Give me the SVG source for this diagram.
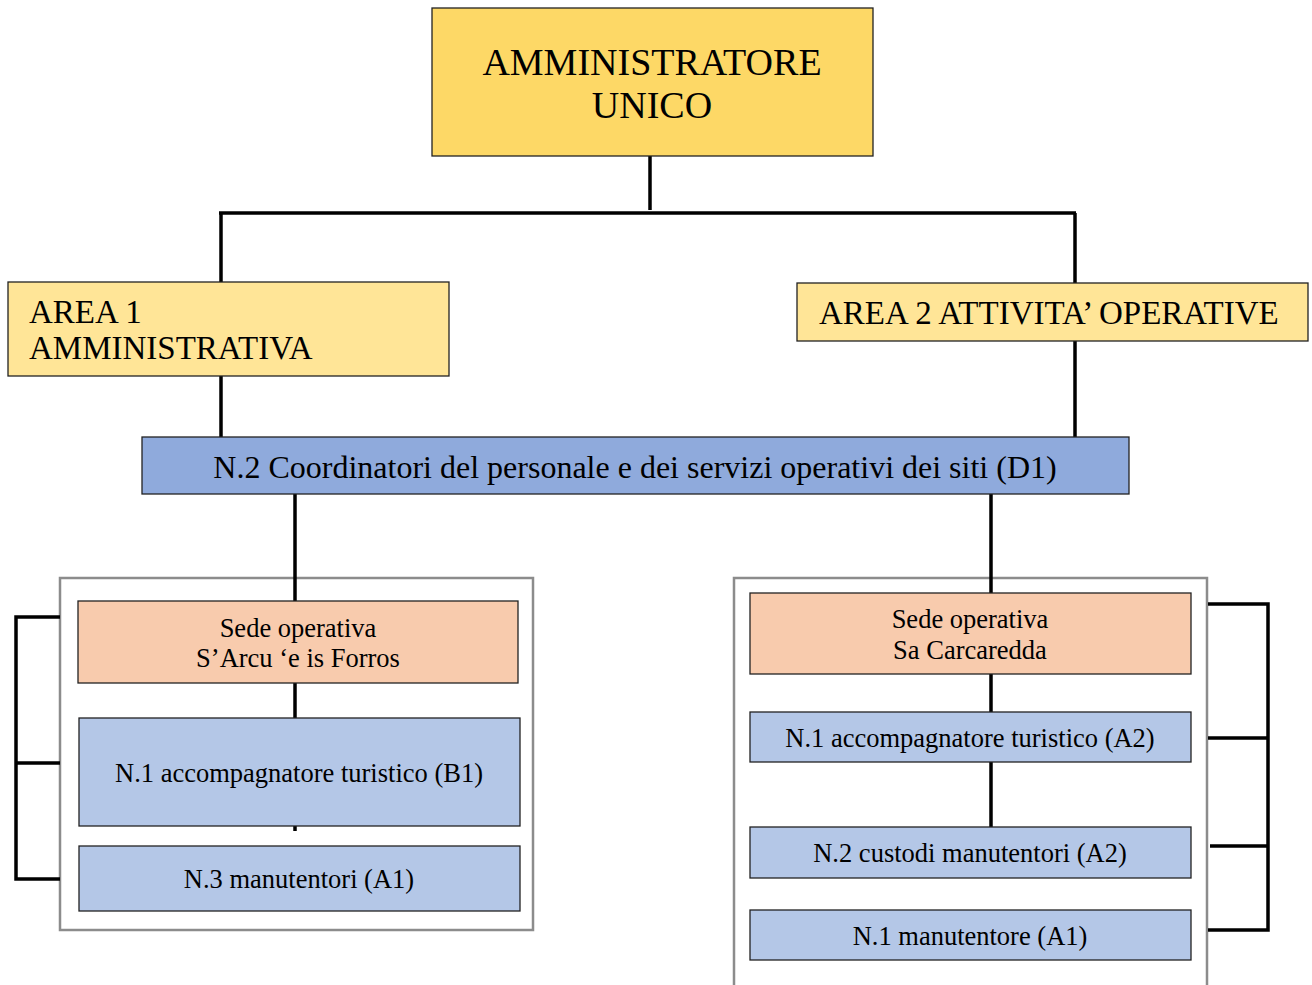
<svg xmlns="http://www.w3.org/2000/svg" width="1312" height="985" viewBox="0 0 1312 985">
<style>
text{font-family:"Liberation Serif","Times New Roman",serif;fill:#000}
.box{stroke:#222;stroke-width:1.3}
.c{text-anchor:middle}
.s{font-size:26.5px}
.ln{stroke:#000;stroke-width:3.5;fill:none}
.cont{fill:none;stroke:#8c8c8c;stroke-width:2.5}
</style>
<rect width="1312" height="985" fill="#fff"/>
<g id="containers">
<rect class="cont" x="60" y="578" width="473" height="352"/>
<path class="cont" d="M734 985 V578 H1207 V985"/>
</g>
<g id="connectors">
<path class="ln" d="M650 156 V210"/>
<path class="ln" d="M219 213 H1076"/>
<path class="ln" d="M221 213 V282"/>
<path class="ln" d="M1075 213 V283"/>
<path class="ln" d="M221 376 V437"/>
<path class="ln" d="M1075 341 V437"/>
<path class="ln" d="M295 494 V601"/>
<path class="ln" d="M991 494 V593"/>
<path class="ln" d="M295 683 V718"/>
<path class="ln" d="M295 826 V831"/>
<path class="ln" d="M991 674 V712"/>
<path class="ln" d="M991 762 V827"/>
<path class="ln" d="M60 617 H16 V879 H60 M16 763 H60"/>
<path class="ln" d="M1208 604 H1268 V930 H1208 M1208 738 H1268 M1210 846 H1268"/>
</g>
<g id="amministratore">
<rect class="box" x="432" y="8" width="441" height="148" fill="#FDD866"/>
<text class="c" x="652" y="75" font-size="38">AMMINISTRATORE</text>
<text class="c" x="652" y="118" font-size="38">UNICO</text>
</g>
<g id="area1">
<rect class="box" x="8" y="282" width="441" height="94" fill="#FFE597"/>
<text x="29" y="323" font-size="33">AREA 1</text>
<text x="29" y="359" font-size="33">AMMINISTRATIVA</text>
</g>
<g id="area2">
<rect class="box" x="797" y="283" width="511" height="58" fill="#FFE597"/>
<text x="819" y="324" font-size="33">AREA 2 ATTIVITA’ OPERATIVE</text>
</g>
<g id="coordinatori">
<rect class="box" x="142" y="437" width="987" height="57" fill="#8FAADC"/>
<text class="c" x="635" y="478" font-size="32">N.2 Coordinatori del personale e dei servizi operativi dei siti (D1)</text>
</g>
<g id="sede1">
<rect class="box" x="78" y="601" width="440" height="82" fill="#F8CBAD"/>
<text class="c s" x="298" y="637">Sede operativa</text>
<text class="c s" x="298" y="667">S’Arcu ‘e is Forros</text>
</g>
<g id="accomp-b1">
<rect class="box" x="79" y="718" width="441" height="108" fill="#B4C7E7"/>
<text class="c s" x="299" y="782">N.1 accompagnatore turistico (B1)</text>
</g>
<g id="manutentori-a1">
<rect class="box" x="79" y="846" width="441" height="65" fill="#B4C7E7"/>
<text class="c s" x="299" y="888">N.3 manutentori (A1)</text>
</g>
<g id="sede2">
<rect class="box" x="750" y="593" width="441" height="81" fill="#F8CBAD"/>
<text class="c s" x="970" y="628">Sede operativa</text>
<text class="c s" x="970" y="659">Sa Carcaredda</text>
</g>
<g id="accomp-a2">
<rect class="box" x="750" y="712" width="441" height="50" fill="#B4C7E7"/>
<text class="c s" x="970" y="747">N.1 accompagnatore turistico (A2)</text>
</g>
<g id="custodi-a2">
<rect class="box" x="750" y="827" width="441" height="51" fill="#B4C7E7"/>
<text class="c s" x="970" y="862">N.2 custodi manutentori (A2)</text>
</g>
<g id="manutentore-a1">
<rect class="box" x="750" y="910" width="441" height="50" fill="#B4C7E7"/>
<text class="c s" x="970" y="945">N.1 manutentore (A1)</text>
</g>
</svg>
